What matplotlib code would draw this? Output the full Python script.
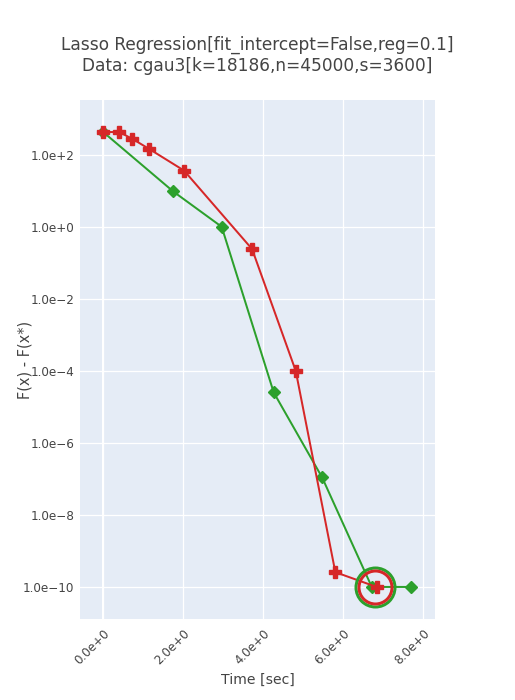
import numpy as np
import matplotlib.pyplot as plt
from matplotlib.ticker import FixedLocator, FuncFormatter

# data (time in sec, gap as log10 exponent)
red_time = [0.0, 0.40, 0.73, 1.15, 2.02, 3.72, 4.81, 5.80, 6.83]
red_log = [2.63, 2.63, 2.44, 2.16, 1.56, -0.62, -4.0, -9.59, -10.0]
green_time = [0.0, 1.75, 2.96, 4.26, 5.47, 6.71, 7.69]
green_log = [2.63, 0.98, 0.0, -4.6, -6.96, -10.0, -10.0]
best_time = [6.79, 6.79]          # green, red highlighted optimum
best_log = [-10.0, -10.0]

x_ticks = [0, 2, 4, 6, 8]
y_ticks = [2, 0, -2, -4, -6, -8, -10]

RED = "#d62728"
GREEN = "#2ca02c"
TXT = "#444444"
PX = 72 / 100  # px -> pt at dpi 100

plt.rcParams["font.family"] = ["DejaVu Sans"]

fig = plt.figure(figsize=(5.15, 7.0), dpi=100)
ax = fig.add_axes([80 / 515, 1 - 619 / 700, 355 / 515, 519 / 700])
ax.set_facecolor("#E5ECF6")

red_y = 10.0 ** np.array(red_log)
green_y = 10.0 ** np.array(green_log)
best_y = 10.0 ** np.array(best_log)

ax.plot(green_time, green_y, color=GREEN, lw=2 * PX, marker="D",
        ms=9 * PX, mec=GREEN, zorder=3)
ax.plot(red_time, red_y, color=RED, lw=2 * PX, marker="P",
        ms=11.5 * PX, mec=RED, zorder=4)
ax.plot(best_time[0], best_y[0], "o", ms=39 * PX, mfc="none", mec=GREEN,
        mew=3 * PX, zorder=5)
ax.plot(best_time[1], best_y[1], "o", ms=33 * PX, mfc="none", mec=RED,
        mew=3 * PX, zorder=6)

ax.set_yscale("log")
ax.set_xlim(-0.58, 8.29)
ax.set_ylim(10 ** -10.89, 10 ** 3.52)

ax.xaxis.set_major_locator(FixedLocator(x_ticks))
ax.xaxis.set_major_formatter(FuncFormatter(lambda v, p: f"{v:.1f}e+0"))
ax.yaxis.set_major_locator(FixedLocator([10.0 ** e for e in y_ticks]))
ax.yaxis.set_minor_locator(FixedLocator([]))


def ylab(v, p):
    e = int(round(np.log10(v)))
    return f"1.0e+{e}" if e >= 0 else f"1.0e\u2212{-e}"


ax.yaxis.set_major_formatter(FuncFormatter(ylab))

ax.grid(True, color="white", lw=1.3 * PX)
ax.axvline(0, color="white", lw=2 * PX, zorder=1)
ax.set_axisbelow(True)
for s in ax.spines.values():
    s.set_visible(False)
ax.tick_params(length=0, labelsize=12 * PX, labelcolor=TXT, pad=4)
ax.tick_params(axis="x", pad=6)
for lab in ax.get_xticklabels():
    lab.set_rotation(45)
    lab.set_ha("right")
    lab.set_rotation_mode("anchor")

ax.set_xlabel("Time [sec]", fontsize=14 * PX, color=TXT, labelpad=4)
ax.set_ylabel("F(x) - F(x*)", fontsize=14.5 * PX, color=TXT)
ax.yaxis.set_label_coords(-47 / 355, 0.5)

fig.text(257 / 515, 1 - 45 / 700, "Lasso Regression[fit_intercept=False,reg=0.1]",
         ha="center", va="center", fontsize=17 * PX, color=TXT)
fig.text(257 / 515, 1 - 66 / 700, "Data: cgau3[k=18186,n=45000,s=3600]",
         ha="center", va="center", fontsize=17 * PX, color=TXT)

fig.savefig("out.png", dpi=100)
